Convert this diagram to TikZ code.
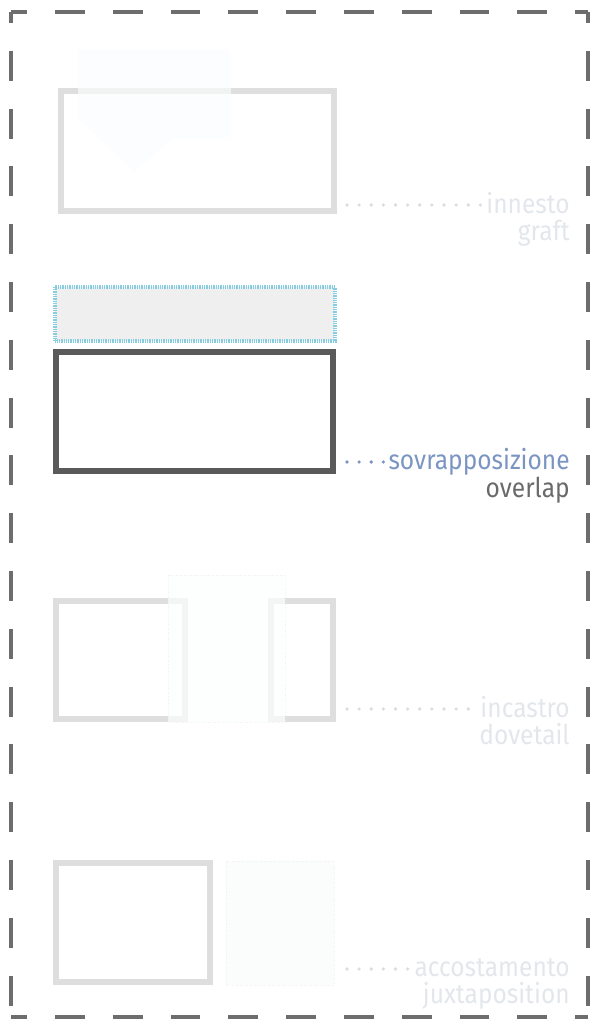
\documentclass[tikz,border=0pt]{standalone}
\usepackage{fontspec}
\newfontfamily\capfont{Fira Sans}[FakeStretch=0.9]
\usetikzlibrary{positioning}
\definecolor{framegray}{HTML}{6D6D6D}
\definecolor{lightbox}{HTML}{DEDEDE}
\definecolor{darkbox}{HTML}{5A5A5A}
\definecolor{hatchblue}{HTML}{86CDE2}
\definecolor{topfill}{HTML}{EFEFEF}
\definecolor{capblue}{HTML}{7B95C2}
\definecolor{capgray}{HTML}{6A6A6A}
\definecolor{fadedtext}{HTML}{E3E6EB}
\definecolor{ghost}{HTML}{FAFCFD}

\begin{document}
\begin{tikzpicture}[x=0.02cm, y=-0.02cm,
    frameline/.style={line width=2.8pt, framegray, dash pattern=on 17pt off 15.9pt},
    piece/.style={line width=3.4pt, lightbox},
    active/.style={line width=3.6pt, darkbox},
    ghostpiece/.style={fill=ghost, draw=ghost!94!black, densely dotted, line width=0.4pt, opacity=0.8},
    leader/.style={line width=2.1pt, line cap=round, dash pattern=on 0pt off 6.9pt},
    lbl/.style={font=\capfont\fontsize{15.5}{17}\selectfont, inner sep=0pt, anchor=base east}]
    \useasboundingbox (0,0) rectangle (593,1024);
    % frame
    \draw[frameline, dash phase=7.9pt]  (11,12) -- (588,12);
    \draw[frameline, dash phase=7.9pt]  (11,1017) -- (588,1017);
    \draw[frameline, dash phase=10.8pt] (11,12) -- (11,1017);
    \draw[frameline, dash phase=10.8pt] (588,12) -- (588,1017);

    % innesto
    \draw[piece] (61,91) rectangle (334,211);
    \fill[ghost, opacity=0.7] (78,49) -- (231,49) -- (231,139) -- (172,139) -- (134,172) -- (78,118) -- cycle;
    \node[lbl, text=fadedtext] (tinn) at (570,213) {innesto};
    \node[lbl, text=fadedtext] (tgraft) at (570,240) {graft};
    \coordinate (ginn) at (347,205);
    \draw[leader, fadedtext!90!gray] (ginn) -- ([xshift=-3pt]ginn -| tinn.west);

    % sovrapposizione
    \draw[fill=topfill, draw=hatchblue, line width=2.4pt, dash pattern=on 0.45pt off 0.55pt] (55,287) rectangle (335,341);
    \draw[active] (56,352) rectangle (333,471);
    \node[lbl, text=capblue] (tsov) at (570,469) {sovrapposizione};
    \node[lbl, text=capgray] (tover) at (570,497) {overlap};
    \coordinate (gsov) at (347,462);
    \draw[leader, capblue] (gsov) -- ([xshift=-1pt]gsov -| tsov.west);

    % incastro
    \draw[piece] (56,601) rectangle (185,719);
    \draw[piece] (271,601) rectangle (333,719);
    \fill[white, opacity=0.6] (168,575) rectangle (285,722);
    \draw[ghostpiece, fill opacity=0.3] (168,575) rectangle (285,722);
    \node[lbl, text=fadedtext] (tinc) at (570,717) {incastro};
    \node[lbl, text=fadedtext] (tdove) at (570,744) {dovetail};
    \coordinate (ginc) at (347,709);
    \draw[leader, fadedtext!90!gray] (ginc) -- ([xshift=-3pt]ginc -| tinc.west);

    % accostamento
    \draw[piece] (56,863) rectangle (210,982);
    \draw[ghostpiece] (226,861) rectangle (334,985);
    \node[lbl, text=fadedtext] (tacc) at (570,976) {accostamento};
    \node[lbl, text=fadedtext] (tjux) at (570,1003) {juxtaposition};
    \coordinate (gacc) at (347,969);
    \draw[leader, fadedtext!90!gray] (gacc) -- ([xshift=-3pt]gacc -| tacc.west);
\end{tikzpicture}
\end{document}
